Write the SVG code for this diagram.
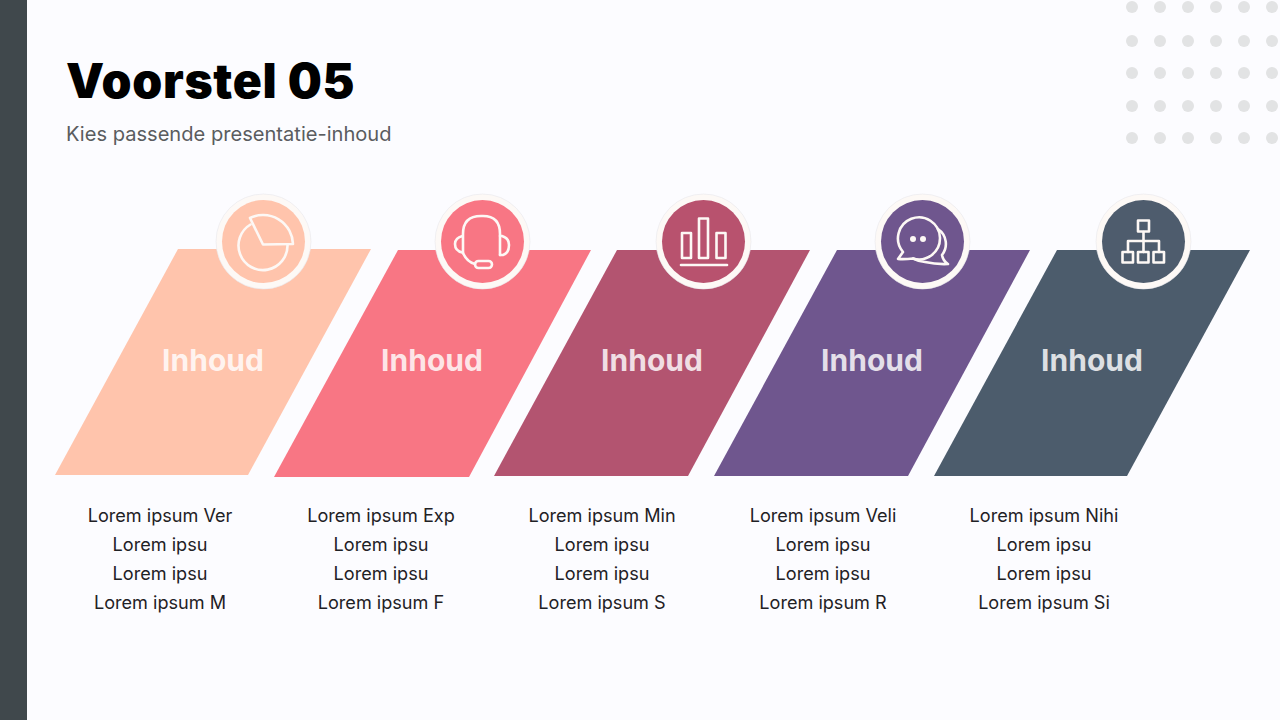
<svg xmlns="http://www.w3.org/2000/svg" width="1280" height="720" viewBox="0 0 1280 720">
<style>
text{font-family:Inter,"Liberation Sans",sans-serif}
.title{font-size:48px;font-weight:900;fill:#000;letter-spacing:.7px}
.sub{font-size:20.1px;fill:#5a5c60}
.head{font-size:30px;font-weight:700;fill:#fff;fill-opacity:.82;text-anchor:middle}
.body{font-size:18.1px;fill:#1f2125;text-anchor:middle}
.ring{fill:#fdf9f6;stroke:#e8e8ec;stroke-width:.6}
.ic{fill:none;stroke:#fdf8f5;stroke-width:2.6;stroke-linecap:round;stroke-linejoin:round}
.dot{fill:#e2e3e4}
</style>
<rect width="1280" height="720" fill="#fcfcff"/>
<rect width="27" height="720" fill="#40484c"/>
<g id="dots">
<circle class="dot" cx="1132" cy="7" r="6"/><circle class="dot" cx="1160" cy="7" r="6"/><circle class="dot" cx="1188" cy="7" r="6"/><circle class="dot" cx="1216" cy="7" r="6"/><circle class="dot" cx="1244" cy="7" r="6"/><circle class="dot" cx="1272" cy="7" r="6"/>
<circle class="dot" cx="1132" cy="41" r="6"/><circle class="dot" cx="1160" cy="41" r="6"/><circle class="dot" cx="1188" cy="41" r="6"/><circle class="dot" cx="1216" cy="41" r="6"/><circle class="dot" cx="1244" cy="41" r="6"/><circle class="dot" cx="1272" cy="41" r="6"/>
<circle class="dot" cx="1132" cy="73" r="6"/><circle class="dot" cx="1160" cy="73" r="6"/><circle class="dot" cx="1188" cy="73" r="6"/><circle class="dot" cx="1216" cy="73" r="6"/><circle class="dot" cx="1244" cy="73" r="6"/><circle class="dot" cx="1272" cy="73" r="6"/>
<circle class="dot" cx="1132" cy="106" r="6"/><circle class="dot" cx="1160" cy="106" r="6"/><circle class="dot" cx="1188" cy="106" r="6"/><circle class="dot" cx="1216" cy="106" r="6"/><circle class="dot" cx="1244" cy="106" r="6"/><circle class="dot" cx="1272" cy="106" r="6"/>
<circle class="dot" cx="1132" cy="138" r="6"/><circle class="dot" cx="1160" cy="138" r="6"/><circle class="dot" cx="1188" cy="138" r="6"/><circle class="dot" cx="1216" cy="138" r="6"/><circle class="dot" cx="1244" cy="138" r="6"/><circle class="dot" cx="1272" cy="138" r="6"/>
</g>
<text class="title" x="66" y="98">Voorstel 05</text>
<text class="sub" x="66" y="141">Kies passende presentatie-inhoud</text>

<g id="node1">
<polygon points="178,249 371,249 248,475 55,475" fill="#ffc4ac"/>
<circle class="ring" cx="263.5" cy="241.500" r="47.500"/>
<circle cx="263.5" cy="241.500" r="41.500" fill="#ffc4ac"/>
<path class="ic" d="M250.500,224.500A24.500,24.500 0 1 0 287.500,245"/>
<path class="ic" d="M263,244.500L250,218A30,30 0 0 1 293,244Z"/>
<text class="head" x="213" y="371">Inhoud</text>
<text class="body" x="160" y="522">Lorem ipsum Ver</text><text class="body" x="160" y="551">Lorem ipsu</text><text class="body" x="160" y="580">Lorem ipsu</text><text class="body" x="160" y="609">Lorem ipsum M</text>
</g>
<g id="node2">
<polygon points="398,250 591,250 469,477 274,477" fill="#f87684"/>
<circle class="ring" cx="482.500" cy="241.500" r="47.500"/>
<circle cx="482.500" cy="241.500" r="41.500" fill="#f87684"/>
<path class="ic" d="M463,253V234Q463,216 481,216H483Q500,216 500,234V255"/>
<path class="ic" d="M462.500,236Q455,238 455,244Q455,251 462.500,252.500M500,255H503Q509,253 509,245Q509,238 502,236H500"/>
<path class="ic" d="M463,253Q467,262 475,264"/>
<rect class="ic" x="475" y="261" width="17" height="7" rx="3.500"/>
<text class="head" x="432" y="371">Inhoud</text>
<text class="body" x="381" y="522">Lorem ipsum Exp</text><text class="body" x="381" y="551">Lorem ipsu</text><text class="body" x="381" y="580">Lorem ipsu</text><text class="body" x="381" y="609">Lorem ipsum F</text>
</g>
<g id="node3">
<polygon points="617,250 810,250 688,476 494,476" fill="#b35470"/>
<circle class="ring" cx="703.500" cy="241.500" r="47.500"/>
<circle cx="703.500" cy="241.500" r="41.500" fill="#b8526e"/>
<rect class="ic" x="682" y="233" width="9" height="25"/>
<rect class="ic" x="699" y="218.500" width="9" height="39.500"/>
<rect class="ic" x="716.500" y="233" width="9" height="25"/>
<path class="ic" d="M681,265H727"/>
<text class="head" x="652" y="371">Inhoud</text>
<text class="body" x="602" y="522">Lorem ipsum Min</text><text class="body" x="602" y="551">Lorem ipsu</text><text class="body" x="602" y="580">Lorem ipsu</text><text class="body" x="602" y="609">Lorem ipsum S</text>
</g>
<g id="node4">
<polygon points="837,250 1030,250 908,476 714,476" fill="#6f568e"/>
<circle class="ring" cx="922.500" cy="241.500" r="47.500"/>
<circle cx="922.500" cy="241.500" r="41.500" fill="#6f568e"/>
<path class="ic" d="M898,259L903,252A21,21 0 1 1 913,258.500Q905,259.500 898,259Z"/>
<path class="ic" d="M938,229A18,18 0 0 1 942,255Q943,261 948,264Q936,264.500 925,262Q919,261.500 913,258.500"/>
<circle cx="913" cy="239" r="3" fill="#fdf8f5"/><circle cx="923" cy="239" r="3" fill="#fdf8f5"/>
<text class="head" x="872" y="371">Inhoud</text>
<text class="body" x="823" y="522">Lorem ipsum Veli</text><text class="body" x="823" y="551">Lorem ipsu</text><text class="body" x="823" y="580">Lorem ipsu</text><text class="body" x="823" y="609">Lorem ipsum R</text>
</g>
<g id="node5">
<polygon points="1057,250 1250,250 1127,476 934,476" fill="#4c5c6c"/>
<circle class="ring" cx="1143.500" cy="241.500" r="47.500"/>
<circle cx="1143.500" cy="241.500" r="41.500" fill="#4e5c6d"/>
<rect class="ic" x="1138" y="220.500" width="11" height="11"/>
<path class="ic" d="M1143.500,232V252M1128,252V241H1159V252"/>
<rect class="ic" x="1122.500" y="252" width="10.500" height="10.500"/>
<rect class="ic" x="1138" y="252" width="10.500" height="10.500"/>
<rect class="ic" x="1153.500" y="252" width="10.500" height="10.500"/>
<text class="head" x="1092" y="371">Inhoud</text>
<text class="body" x="1044" y="522">Lorem ipsum Nihi</text><text class="body" x="1044" y="551">Lorem ipsu</text><text class="body" x="1044" y="580">Lorem ipsu</text><text class="body" x="1044" y="609">Lorem ipsum Si</text>
</g>
<g id="connectors"/>
</svg>
